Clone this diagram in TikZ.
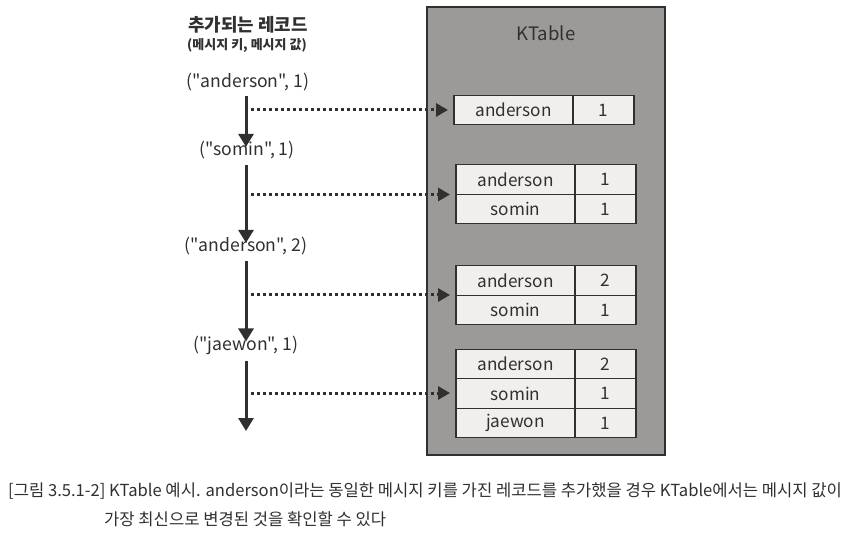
\documentclass[tikz,border=0pt]{standalone}
\usepackage{fontspec}
\newfontfamily\kr{Noto Sans CJK KR}
\usetikzlibrary{arrows.meta,positioning}
\definecolor{ink}{RGB}{50,48,46}
\definecolor{ktgray}{RGB}{156,154,152}
\definecolor{cellfill}{RGB}{240,239,237}
\tikzset{
  rec/.style={font=\kr\fontsize{17.6}{20}\selectfont, text=ink, inner sep=0pt},
  flow/.style={draw=ink, line width=3pt, -{Triangle[length=13pt,width=15pt]}},
  feed/.style={draw=ink, line width=3pt, dash pattern=on 3pt off 3pt, -{Triangle[length=12pt,width=13pt]}, shorten >=6pt},
  cell/.style={draw=ink, line width=1.4pt, fill=cellfill, outer sep=0pt, inner sep=0pt,
    minimum height=29.5pt, font=\kr\fontsize{17.2}{20}\selectfont, text=ink},
  kcell/.style={cell, minimum width=119pt},
  vcell/.style={cell, minimum width=61pt},
  captext/.style={anchor=west, inner sep=0pt, font=\kr\fontsize{16.6}{19}\selectfont, text=ink},
}
\begin{document}
\begin{tikzpicture}[x=1pt,y=-1pt]
\useasboundingbox (0,0) rectangle (853,534);
% KTable box
\draw[ink, line width=1.6pt, fill=ktgray] (427,7) rectangle (665,455);
\node[font=\kr\fontsize{18.5}{20}\selectfont, text=ink] (kt) at (546,33) {KTable};
% title
\node[font=\kr\bfseries\fontsize{17.9}{20}\selectfont, text=ink] (title) at (248,25) {추가되는 레코드};
\node[font=\kr\bfseries\fontsize{13}{15}\selectfont, text=ink] (sub) at (247,45) {(메시지 키, 메시지 값)};
% records
\node[rec] (r1) at (248,82) {("anderson", 1)};
\node[rec] (r2) at (247,150) {("somin", 1)};
\node[rec] (r3) at (246,246) {("anderson", 2)};
\node[rec] (r4) at (246,345) {("jaewon", 1)};
\coordinate (end) at (246,431);
% tables
\node[kcell] (a1) at (513.5,110) {anderson};
\node[vcell, right=0pt of a1] (a1v) {1};
\node[kcell] (b1) at (515.5,179.5) {anderson};
\node[vcell, right=0pt of b1] (b1v) {1};
\node[kcell, below=0pt of b1] (b2) {somin};
\node[vcell, right=0pt of b2] (b2v) {1};
\node[kcell] (c1) at (515.5,280.5) {anderson};
\node[vcell, right=0pt of c1] (c1v) {2};
\node[kcell, below=0pt of c1] (c2) {somin};
\node[vcell, right=0pt of c2] (c2v) {1};
\node[kcell] (e1) at (515.5,364) {anderson};
\node[vcell, right=0pt of e1] (e1v) {2};
\node[kcell, below=0pt of e1] (e2) {somin};
\node[vcell, right=0pt of e2] (e2v) {1};
\node[kcell, below=0pt of e2] (e3) {jaewon};
\node[vcell, right=0pt of e3] (e3v) {1};
% flow arrows
\draw[flow] ([yshift=-5pt]r1.south -| end) -- ([yshift=-6pt]r2.north -| end);
\draw[flow] ([yshift=-6pt]r2.south -| end) -- ([yshift=-6pt]r3.north -| end);
\draw[flow] ([yshift=-6pt]r3.south -| end) -- ([yshift=-6pt]r4.north -| end);
\draw[flow] ([yshift=-6pt]r4.south -| end) -- (end);
% feed arrows
\coordinate (f1) at (251,110);
\coordinate (f2) at (251,194.5);
\coordinate (f3) at (251,295);
\coordinate (f4) at (251,393);
\draw[feed] (f1) -- (a1.west);
\draw[feed] (f2) -- (f2 -| b1.west);
\draw[feed] (f3) -- (f3 -| c1.west);
\draw[feed] (f4) -- (f4 -| e1.west);
% caption
\node[captext] (cap1) at (8,491) {[그림 3.5.1-2] KTable 예시. anderson이라는 동일한 메시지 키를 가진 레코드를 추가했을 경우 KTable에서는 메시지 값이};
\node[captext] (cap2) at (104,519) {가장 최신으로 변경된 것을 확인할 수 있다};
\end{tikzpicture}
\end{document}
